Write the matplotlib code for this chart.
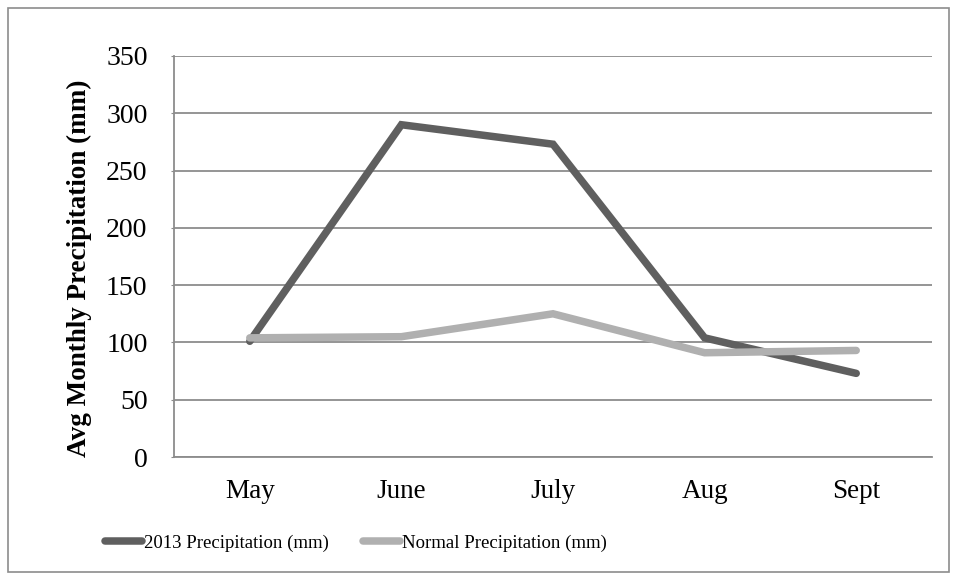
import matplotlib
matplotlib.use("Agg")
import matplotlib.pyplot as plt
from matplotlib.patches import Rectangle

months = ["May", "June", "July", "Aug", "Sept"]
precip_2013 = [101, 290, 273, 104, 73]
precip_normal = [104, 105, 125, 91, 93]

plt.rcParams['font.family'] = ['Liberation Serif', 'DejaVu Serif']

fig = plt.figure(figsize=(9.57, 5.79), dpi=100)
ax = fig.add_axes([0.1818, 0.2107, 0.7921, 0.6926])

x = list(range(len(months)))
ax.plot(x, precip_2013, color='#5f5f5f', lw=5.4, solid_capstyle='round',
        solid_joinstyle='miter', label='2013 Precipitation (mm)', zorder=3)
ax.plot(x, precip_normal, color='#b0b0b0', lw=5.4, solid_capstyle='round',
        solid_joinstyle='miter', label='Normal Precipitation (mm)', zorder=4)

ax.set_xlim(-0.5, 4.5)
ax.set_ylim(0, 350)
ax.set_yticks(range(0, 351, 50))
ax.set_xticks(x)
ax.set_xticklabels(months)
ax.yaxis.grid(True, color='#8c8c8c', lw=1.3)
ax.set_axisbelow(True)

for side in ['top', 'right']:
    ax.spines[side].set_visible(False)
for side in ['left', 'bottom']:
    ax.spines[side].set_color('#8c8c8c')
    ax.spines[side].set_linewidth(1.3)

ax.tick_params(axis='y', length=2, color='#8c8c8c', labelsize=20, pad=17)
ax.tick_params(axis='x', length=0, labelsize=19.5, pad=16)
ax.set_ylabel('Avg Monthly Precipitation (mm)', fontsize=19.5, fontweight='bold')
ax.yaxis.set_label_coords(-0.108, 0.47)

leg = fig.legend(loc='center', bbox_to_anchor=(0.372, 0.062), ncol=2, frameon=False,
                 fontsize=13.5, handlelength=2.0, handletextpad=0.1, columnspacing=1.8)

# thin frame around the whole chart
fig.patches.append(Rectangle((0.008, 0.012), 0.984, 0.975, transform=fig.transFigure,
                             fill=False, edgecolor='#8c8c8c', lw=1.2))

fig.savefig('out.png', dpi=100)
